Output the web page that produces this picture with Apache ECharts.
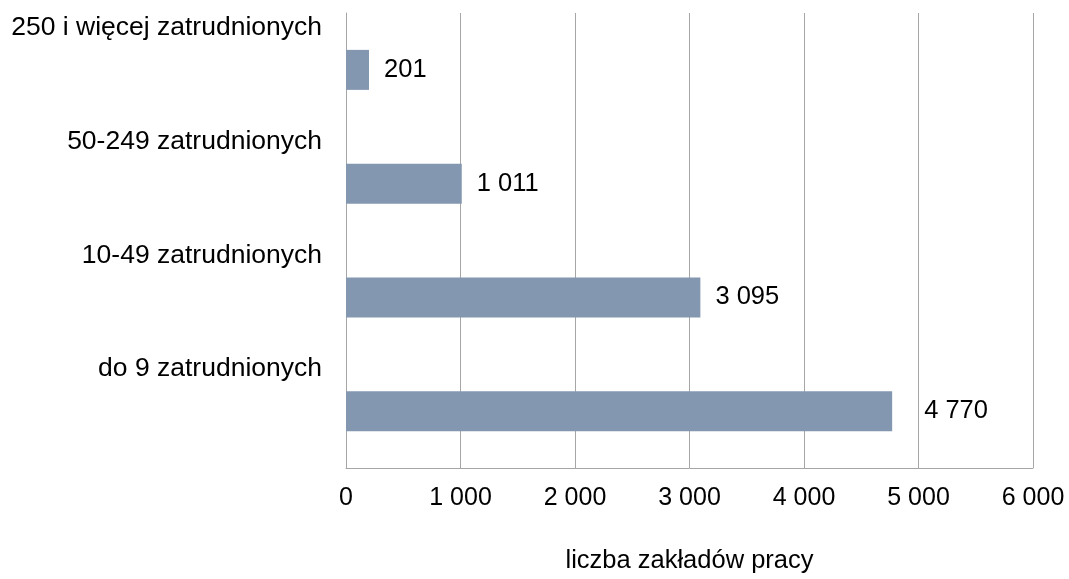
<!DOCTYPE html>
<html>
<head>
<meta charset="utf-8">
<script src="https://cdn.jsdelivr.net/npm/echarts@6/dist/echarts.min.js"></script>
<style>
  html, body { margin: 0; padding: 0; background: #fff; }
  #chart { width: 1069px; height: 579px; }
</style>
</head>
<body>
<div id="chart"></div>
<script>
// Enterprise size classes, bottom to top
const categories = ['do 9 zatrudnionych', '10-49 zatrudnionych', '50-249 zatrudnionych', '250 i więcej zatrudnionych'];
const counts = [4770, 3095, 1011, 201];
const axisTitle = 'liczba zakładów pracy';

const fmt = v => String(v).replace(/\B(?=(\d{3})+(?!\d))/g, ' ');
const font = 'Liberation Sans, Arial, sans-serif';
const gridColor = '#a6a6a6';

const chart = echarts.init(document.getElementById('chart'));
chart.setOption({
  animation: false,
  grid: { left: 346, right: 36, top: 13, bottom: 107, containLabel: false },
  xAxis: {
    type: 'value', min: 0, max: 6000, interval: 1000,
    name: axisTitle, nameLocation: 'middle', nameGap: 80,
    nameTextStyle: { fontFamily: font, fontSize: 25.5, color: '#000' },
    axisLine: { show: true, lineStyle: { color: gridColor, width: 1 } },
    axisTick: { show: false },
    axisLabel: { margin: 18, fontFamily: font, fontSize: 25, color: '#000', formatter: fmt },
    splitLine: { show: true, lineStyle: { color: gridColor, width: 1 } }
  },
  yAxis: {
    type: 'category', data: categories,
    axisLine: { show: true, lineStyle: { color: gridColor, width: 1 } },
    axisTick: { show: false },
    axisLabel: {
      margin: 24, verticalAlign: 'middle',
      formatter: v => '{c|' + v + '}',
      rich: {
        // category name sits above its bar
        c: { fontFamily: font, fontSize: 26.5, color: '#000', padding: [0, 0, 84, 0] }
      }
    }
  },
  series: [{
    type: 'bar', barWidth: 40,
    itemStyle: { color: '#8497b0' },
    data: counts.map((v, i) => i === 0 ? { value: v, label: { distance: 32 } } : v),
    label: {
      show: true, position: 'right', distance: 15,
      fontFamily: font, fontSize: 25.5, color: '#000',
      formatter: p => fmt(p.value)
    }
  }]
});
</script>
</body>
</html>
